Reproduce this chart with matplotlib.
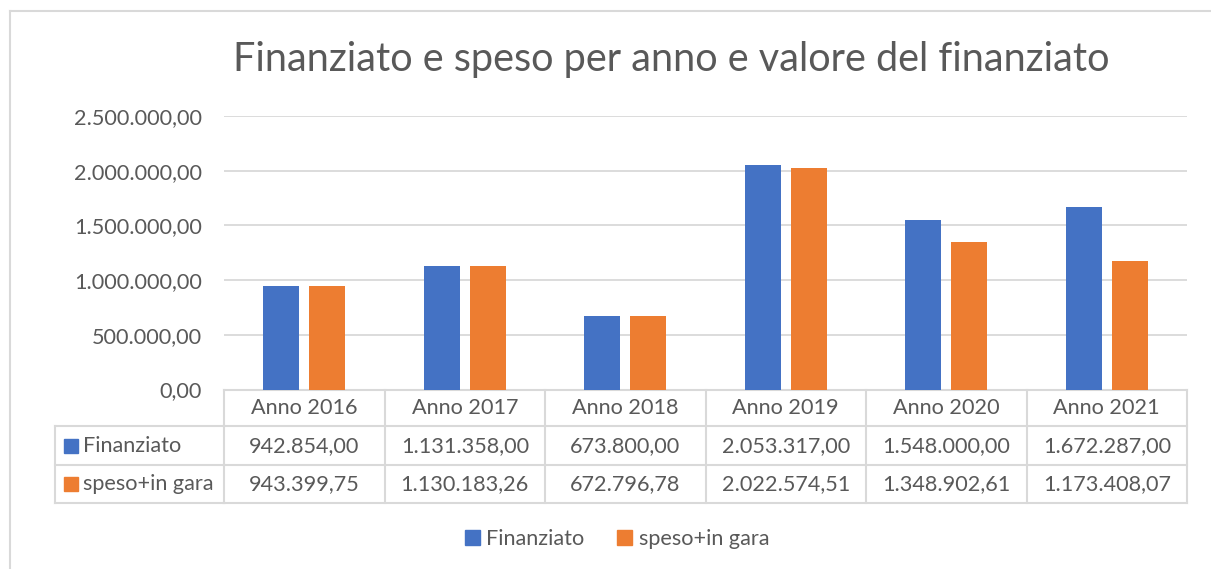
import matplotlib.pyplot as plt
import matplotlib.transforms as mtransforms
from matplotlib.lines import Line2D
from matplotlib.patches import Rectangle, Patch
import numpy as np

plt.rcParams['font.family'] = ['Lato', 'DejaVu Sans']

# dati
anni = ['Anno 2016', 'Anno 2017', 'Anno 2018', 'Anno 2019', 'Anno 2020', 'Anno 2021']
finanziato = [942854.00, 1131358.00, 673800.00, 2053317.00, 1548000.00, 1672287.00]
speso = [943399.75, 1130183.26, 672796.78, 2022574.51, 1348902.61, 1173408.07]
serie = ['Finanziato', 'speso+in gara']
y_ticks = [0, 500000, 1000000, 1500000, 2000000, 2500000]

BLU = '#4472C4'
ARANCIO = '#ED7D31'
GRIGIO = '#D9D9D9'
TESTO = '#595959'
FS = 15.6

W, H = 1211, 569


def fx(x):
    return x / W


def fy(y):
    return 1 - y / H


def fmt_it(v):
    s = f"{v:,.2f}"
    return s.replace(',', 'X').replace('.', ',').replace('X', '.')


fig = plt.figure(figsize=(W / 100, H / 100), dpi=100)
ax = fig.add_axes([fx(224), fy(389.5), fx(1187) - fx(224), fy(116) - fy(389.5)])

x = np.arange(len(anni))
larg = 0.225
ax.bar(x - 0.143, finanziato, larg, color=BLU, zorder=3)
ax.bar(x + 0.143, speso, larg, color=ARANCIO, zorder=3)

ax.set_xlim(-0.5, len(anni) - 0.5)
ax.set_ylim(0, 2500000)
ax.set_yticks(y_ticks)
ax.set_yticklabels([fmt_it(v) for v in y_ticks])
ax.tick_params(axis='y', length=0, pad=16, labelsize=FS, labelcolor=TESTO)
ax.set_xticks([])
ax.grid(axis='y', color=GRIGIO, linewidth=1.3)
ax.set_axisbelow(True)
for s in ax.spines.values():
    s.set_visible(False)

fig.text(fx(671.5), fy(60), 'Finanziato e speso per anno e valore del finanziato',
         ha='center', va='center', fontsize=28.5, color=TESTO)

# tabella dati sotto il grafico
tr = mtransforms.blended_transform_factory(ax.transData, fig.transFigure)
righe_y = [389.5, 426, 465, 503]
lw = 1.5
# linee orizzontali
ax.add_line(Line2D([-0.5, len(anni) - 0.5], [fy(righe_y[0])] * 2, transform=tr,
                   color=GRIGIO, lw=lw, clip_on=False))
for yy in righe_y[1:]:
    fig.add_artist(Line2D([fx(55), fx(224)], [fy(yy)] * 2, color=GRIGIO, lw=lw))
    ax.add_line(Line2D([-0.5, len(anni) - 0.5], [fy(yy)] * 2, transform=tr,
                       color=GRIGIO, lw=lw, clip_on=False))
# linee verticali
fig.add_artist(Line2D([fx(55), fx(55)], [fy(426), fy(503)], color=GRIGIO, lw=lw))
for i in range(len(anni) + 1):
    ax.add_line(Line2D([i - 0.5, i - 0.5], [fy(389.5), fy(503)], transform=tr,
                       color=GRIGIO, lw=lw, clip_on=False))

for i, a in enumerate(anni):
    ax.text(i, fy(408), a, transform=tr, ha='center', va='center',
            fontsize=FS, color=TESTO)
    ax.text(i, fy(446), fmt_it(finanziato[i]), transform=tr, ha='center',
            va='center', fontsize=FS, color=TESTO)
    ax.text(i, fy(484), fmt_it(speso[i]), transform=tr, ha='center',
            va='center', fontsize=FS, color=TESTO)

for nome, col, yc in zip(serie, [BLU, ARANCIO], [446, 484]):
    fig.add_artist(Rectangle((fx(64), fy(yc + 7)), fx(14), 14 / H, color=col,
                             transform=fig.transFigure))
    fig.text(fx(83), fy(yc), nome, ha='left', va='center', fontsize=FS, color=TESTO)

# legenda
maniglie = [Patch(color=BLU), Patch(color=ARANCIO)]
fig.legend(maniglie, serie, loc='center', bbox_to_anchor=(fx(617), fy(539)),
           ncol=2, frameon=False, fontsize=FS, labelcolor=TESTO,
           handlelength=0.7, handleheight=0.7, handletextpad=0.3,
           columnspacing=1.5)

# bordo del grafico
fig.add_artist(Line2D([fx(10), fx(10)], [fy(11), 0], color=GRIGIO, lw=1.5))
fig.add_artist(Line2D([fx(10), 1], [fy(11), fy(11)], color=GRIGIO, lw=1.5))

fig.savefig('out.png', dpi=100)
